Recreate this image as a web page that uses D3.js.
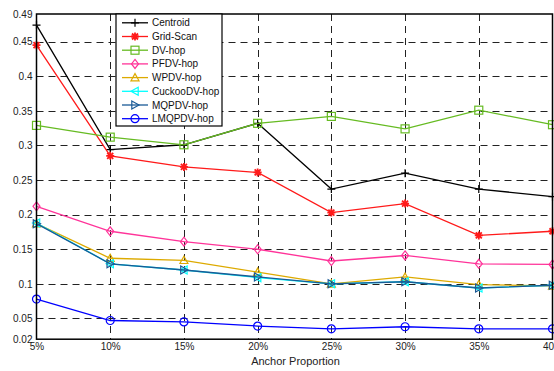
<!DOCTYPE html>
<html>
<head>
<meta charset="utf-8">
<script src="https://cdn.jsdelivr.net/npm/d3@7/dist/d3.min.js"></script>
<style>
  html, body { margin: 0; padding: 0; background: #fff; }
  svg { display: block; font-family: "Liberation Sans", Arial, Helvetica, sans-serif; }
</style>
</head>
<body>
<svg id="chart" width="554" height="371"></svg>
<script>
// Anchor proportion categories (x axis)
const categories = ["5%", "10%", "15%", "20%", "25%", "30%", "35%", "40%"];

// Localization error per algorithm
const centroid = [0.474, 0.294, 0.301, 0.332, 0.237, 0.260, 0.237, 0.226];
const gridScan = [0.445, 0.285, 0.269, 0.261, 0.203, 0.216, 0.170, 0.176];
const dvHop    = [0.329, 0.312, 0.301, 0.332, 0.342, 0.324, 0.351, 0.330];
const pfdvHop  = [0.212, 0.176, 0.161, 0.150, 0.133, 0.141, 0.129, 0.128];
const wpdvHop  = [0.187, 0.137, 0.134, 0.117, 0.100, 0.110, 0.099, 0.097];
const cuckooDvHop = [0.188, 0.129, 0.120, 0.109, 0.100, 0.103, 0.094, 0.098];
const mqpdvHop = [0.187, 0.129, 0.120, 0.110, 0.100, 0.103, 0.094, 0.098];
const lmqpdvHop = [0.078, 0.047, 0.045, 0.039, 0.035, 0.038, 0.035, 0.035];

// Y axis ticks
const yTicks = [0.02, 0.05, 0.1, 0.15, 0.2, 0.25, 0.3, 0.35, 0.4, 0.45, 0.49];
const yTickLabels = ["0.02", "0.05", "0.1", "0.15", "0.2", "0.25", "0.3", "0.35", "0.4", "0.45", "0.49"];

const seriesNames = ["Centroid", "Grid-Scan", "DV-hop", "PFDV-hop", "WPDV-hop", "CuckooDV-hop", "MQPDV-hop", "LMQPDV-hop"];
const seriesValues = [centroid, gridScan, dvHop, pfdvHop, wpdvHop, cuckooDvHop, mqpdvHop, lmqpdvHop];
const seriesColors = ["#000000", "#ff1a1a", "#66bb22", "#ff3399", "#ddaa00", "#00ffff", "#1a5a96", "#0000ff"];
const seriesMarkers = ["plus", "star", "square", "diamond", "triUp", "triLeft", "triRight", "circle"];

const series = seriesNames.map((name, i) => ({
  name, values: seriesValues[i], color: seriesColors[i], marker: seriesMarkers[i]
}));

const svg = d3.select("#chart");
const plotLeft = 36.5, plotRight = 552.5, plotTop = 14, plotBottom = 339.2;

const x = d3.scalePoint().domain(categories).range([plotLeft, plotRight]);
const y = d3.scaleLinear().domain([0.02, 0.49]).range([plotBottom, plotTop]);

// Grid lines (dashed)
const grid = svg.append("g").attr("stroke", "#222").attr("stroke-width", 1)
  .attr("stroke-dasharray", "7,5").attr("fill", "none");
grid.selectAll("line.h").data(yTicks.slice(1, -1)).join("line")
  .attr("x1", plotLeft).attr("x2", plotRight)
  .attr("y1", d => Math.round(y(d)) + 0.5).attr("y2", d => Math.round(y(d)) + 0.5);
grid.selectAll("line.v").data(categories.slice(1, -1)).join("line")
  .attr("x1", d => Math.round(x(d)) + 0.5).attr("x2", d => Math.round(x(d)) + 0.5)
  .attr("y1", plotTop).attr("y2", plotBottom);

// Axes
const yAxis = d3.axisLeft(y).tickValues(yTicks).tickFormat((d, i) => yTickLabels[i]).tickSize(0).tickPadding(4);
const xAxis = d3.axisBottom(x).tickSize(0).tickPadding(4);

const gy = svg.append("g").attr("transform", `translate(${plotLeft},0)`).call(yAxis);
const gx = svg.append("g").attr("transform", `translate(0,${plotBottom})`).call(xAxis);
[gx, gy].forEach(g => {
  g.select(".domain").remove();
  g.selectAll("text").attr("font-size", 10).attr("fill", "#222")
    .attr("font-family", "'Liberation Sans', Arial, sans-serif");
});

// Marker drawing
function marker(g, type, color) {
  const s = 4;
  switch (type) {
    case "plus":
      g.append("path").attr("d", `M${-s},0H${s}M0,${-s}V${s}`).attr("stroke", color).attr("stroke-width", 1.2);
      break;
    case "star":
      g.append("path").attr("d", `M${-s},0H${s}M0,${-s}V${s}M${-s*0.75},${-s*0.75}L${s*0.75},${s*0.75}M${-s*0.75},${s*0.75}L${s*0.75},${-s*0.75}`)
        .attr("stroke", color).attr("stroke-width", 1.8);
      break;
    case "square":
      g.append("rect").attr("x", -s).attr("y", -s).attr("width", 2*s).attr("height", 2*s)
        .attr("fill", "none").attr("stroke", color).attr("stroke-width", 1.2);
      break;
    case "diamond":
      g.append("path").attr("d", `M0,${-s-0.5}L${s-0.5},0L0,${s+0.5}L${-s+0.5},0Z`)
        .attr("fill", "none").attr("stroke", color).attr("stroke-width", 1.2);
      break;
    case "triUp":
      g.append("path").attr("d", `M0,${-s}L${s},${s*0.8}L${-s},${s*0.8}Z`)
        .attr("fill", "none").attr("stroke", color).attr("stroke-width", 1.2);
      break;
    case "triLeft":
      g.append("path").attr("d", `M${-s},0L${s*0.8},${-s}L${s*0.8},${s}Z`)
        .attr("fill", "none").attr("stroke", color).attr("stroke-width", 1.2);
      break;
    case "triRight":
      g.append("path").attr("d", `M${s},0L${-s*0.8},${-s}L${-s*0.8},${s}Z`)
        .attr("fill", "none").attr("stroke", color).attr("stroke-width", 1.2);
      break;
    case "circle":
      g.append("circle").attr("r", s).attr("fill", "none").attr("stroke", color).attr("stroke-width", 1.2);
      break;
  }
}

// Series lines and markers
const line = d3.line().x((d, i) => x(categories[i])).y(d => y(d));
series.forEach(s => {
  const g = svg.append("g");
  g.append("path").datum(s.values).attr("d", line)
    .attr("fill", "none").attr("stroke", s.color).attr("stroke-width", 1.3);
  s.values.forEach((v, i) => {
    const m = g.append("g").attr("transform", `translate(${x(categories[i])},${y(v)})`);
    marker(m, s.marker, s.color);
  });
});

// Plot frame
svg.append("rect").attr("x", plotLeft).attr("y", plotTop)
  .attr("width", plotRight - plotLeft).attr("height", plotBottom - plotTop)
  .attr("fill", "none").attr("stroke", "#000").attr("stroke-width", 1.5);

// Axis title
svg.append("text").attr("x", (plotLeft + plotRight) / 2 + 1).attr("y", 365)
  .attr("text-anchor", "middle").attr("font-size", 11).attr("fill", "#222")
  .text("Anchor Proportion");

// Legend
const lg = svg.append("g");
const lgX = 116, lgY = 14, lgW = 106, lgH = 112;
lg.append("rect").attr("x", lgX).attr("y", lgY).attr("width", lgW).attr("height", lgH)
  .attr("fill", "#fff").attr("stroke", "#000").attr("stroke-width", 1.2);
series.forEach((s, i) => {
  const cy = 22.8 + i * 13.7;
  const row = lg.append("g");
  row.append("line").attr("x1", 122).attr("x2", 148).attr("y1", cy).attr("y2", cy)
    .attr("stroke", s.color).attr("stroke-width", 1.3);
  marker(row.append("g").attr("transform", `translate(135,${cy})`), s.marker, s.color);
  row.append("text").attr("x", 152).attr("y", cy).attr("dy", "0.35em")
    .attr("font-size", 10).attr("fill", "#111").text(s.name);
});
</script>
</body>
</html>
